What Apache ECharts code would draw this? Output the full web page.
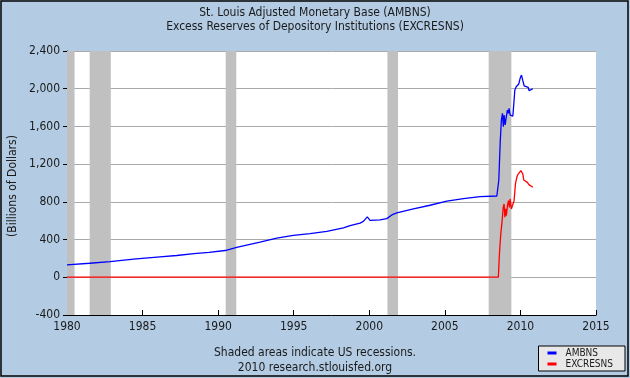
<!DOCTYPE html>
<html>
<head>
<meta charset="utf-8">
<script src="https://cdn.jsdelivr.net/npm/echarts@6/dist/echarts.min.js"></script>
<style>
html,body{margin:0;padding:0;background:#b3cce4;}
#chart{width:630px;height:378px;}
</style>
</head>
<body>
<div id="chart"></div>
<script>
var titleLines = ['St. Louis Adjusted Monetary Base (AMBNS)', 'Excess Reserves of Depository Institutions (EXCRESNS)'];
var yTicks = {min: -400, max: 2400, interval: 400};
var xTicks = {min: 1980, max: 2015, interval: 5};

var recessionStarts = [1980.0, 1981.5, 1990.5, 2001.2, 2007.9];
var recessionEnds   = [1980.5, 1982.9, 1991.2, 2001.9, 2009.4];

var ambnsDates = [1980.0, 1981.5, 1982.85, 1984.4, 1986.15, 1987.26, 1988.4, 1989.4, 1990.46, 1991.23, 1992.77, 1993.88, 1994.98, 1996.08, 1997.19, 1998.29, 1998.73, 1999.39, 1999.61, 1999.87, 2000.05, 2000.71, 2001.16, 2001.49, 2001.82, 2002.92, 2004.02, 2005.13, 2006.23, 2007.33, 2008.44,
  2008.48, 2008.57, 2008.66, 2008.74, 2008.81, 2008.87, 2008.92, 2008.99, 2009.05, 2009.14, 2009.21, 2009.25, 2009.32, 2009.40, 2009.50, 2009.63, 2009.72, 2009.80, 2009.89, 2009.98, 2010.07, 2010.16, 2010.25, 2010.38, 2010.51, 2010.58, 2010.69, 2010.82];
var ambnsValues = [132, 149, 167, 192, 217, 231, 250, 265, 284, 316, 373, 416, 444, 462, 487, 523, 547, 575, 593, 640, 604, 608, 622, 661, 683, 725, 764, 807, 835, 856, 862,
  862, 1032, 1424, 1668, 1739, 1597, 1721, 1615, 1686, 1774, 1739, 1792, 1721, 1703, 1710, 1986, 2021, 2039, 2050, 2110, 2145, 2085, 2029, 2015, 2015, 1979, 1994, 2000];

var excresDates = [1980.0, 2001.5, 2001.6, 2001.7, 2008.54, 2008.61, 2008.70, 2008.79, 2008.86, 2008.92, 2008.97, 2009.03, 2009.07, 2009.14, 2009.21, 2009.27, 2009.32, 2009.40, 2009.50, 2009.58, 2009.67, 2009.76, 2009.85, 2009.93, 2010.03, 2010.09, 2010.16, 2010.22, 2010.33, 2010.46, 2010.56, 2010.69, 2010.82];
var excresValues = [1, 1, 20, 1, 2, 248, 460, 601, 742, 778, 637, 725, 654, 760, 813, 742, 831, 725, 725, 813, 990, 1060, 1095, 1095, 1131, 1149, 1095, 1032, 1017, 1007, 983, 979, 954];

var footnotes = ['Shaded areas indicate US recessions.', '2010 research.stlouisfed.org'];
var yAxisTitle = '(Billions of Dollars)';

var FONT = "'DejaVu Sans Condensed', 'DejaVu Sans', sans-serif";

function pairs(xs, ys) { return xs.map(function (x, i) { return [x, ys[i]]; }); }
function fmtComma(v) { return String(v).replace(/\B(?=(\d{3})+(?!\d))/g, ','); }

var chart = echarts.init(document.getElementById('chart'), null, {renderer: 'canvas'});
chart.setOption({
  backgroundColor: '#b3cce4',
  animation: false,
  textStyle: {fontFamily: FONT},
  title: [
    {text: titleLines[0], left: 'center', top: 2, textStyle: {fontSize: 12, fontWeight: 'normal', color: '#1a1a1a', fontFamily: FONT}},
    {text: titleLines[1], left: 'center', top: 16, textStyle: {fontSize: 12, fontWeight: 'normal', color: '#1a1a1a', fontFamily: FONT}}
  ],
  grid: {left: 67, right: 34, top: 51, bottom: 63, show: true, backgroundColor: '#ffffff', borderWidth: 0},
  xAxis: {
    type: 'value', min: xTicks.min, max: xTicks.max, interval: xTicks.interval,
    axisLine: {onZero: false, lineStyle: {color: '#000', width: 1}},
    axisTick: {inside: true, length: 5, lineStyle: {color: '#000'}},
    axisLabel: {color: '#1a1a1a', fontSize: 12, margin: 6, fontFamily: FONT, formatter: function (v) { return String(v); }},
    splitLine: {show: false}
  },
  yAxis: {
    type: 'value', min: yTicks.min, max: yTicks.max, interval: yTicks.interval,
    axisLine: {show: true, onZero: false, lineStyle: {color: '#000', width: 1}},
    axisTick: {show: true, length: 4, lineStyle: {color: '#000'}},
    axisLabel: {color: '#1a1a1a', fontSize: 12, margin: 7, fontFamily: FONT, formatter: fmtComma},
    splitLine: {show: true, lineStyle: {color: '#aaaaaa', width: 1}}
  },
  legend: {
    data: ['AMBNS', 'EXCRESNS'],
    orient: 'vertical', right: 5, bottom: 7,
    backgroundColor: '#e8e8e8', borderColor: '#000', borderWidth: 1, borderRadius: 0,
    padding: [2, 12, 2, 9], itemGap: 1, itemWidth: 9, itemHeight: 3, icon: 'rect',
    textStyle: {fontSize: 10, color: '#1a1a1a', fontFamily: FONT, padding: [0, 0, 0, 4]}
  },
  graphic: [
    {type: 'text', left: 'center', top: 347, style: {text: footnotes[0], font: '12px ' + FONT, fill: '#1a1a1a'}},
    {type: 'text', left: 'center', top: 362, style: {text: footnotes[1], font: '12px ' + FONT, fill: '#1a1a1a'}},
    {type: 'text', x: 13, y: 186, rotation: Math.PI / 2, style: {text: yAxisTitle, font: '12px ' + FONT, fill: '#1a1a1a', align: 'center', verticalAlign: 'middle'}},
    {type: 'rect', shape: {x: 1, y: 1, width: 627, height: 375}, style: {fill: 'none', stroke: '#000', lineWidth: 1.5}, silent: true, z: 100}
  ],
  series: [
    {
      name: 'recessions', type: 'line', data: [], z: 1, silent: true,
      markArea: {
        silent: true,
        itemStyle: {color: '#c0c0c0'},
        data: recessionStarts.map(function (s, i) { return [{xAxis: s}, {xAxis: recessionEnds[i]}]; })
      }
    },
    {
      name: 'AMBNS', type: 'line', data: pairs(ambnsDates, ambnsValues), z: 3,
      showSymbol: false, symbol: 'none', color: '#0000ff',
      lineStyle: {color: '#0000ff', width: 1.3}
    },
    {
      name: 'EXCRESNS', type: 'line', data: pairs(excresDates, excresValues), z: 3,
      showSymbol: false, symbol: 'none', color: '#ff0000',
      lineStyle: {color: '#ff0000', width: 1.3}
    }
  ]
});
</script>
</body>
</html>
